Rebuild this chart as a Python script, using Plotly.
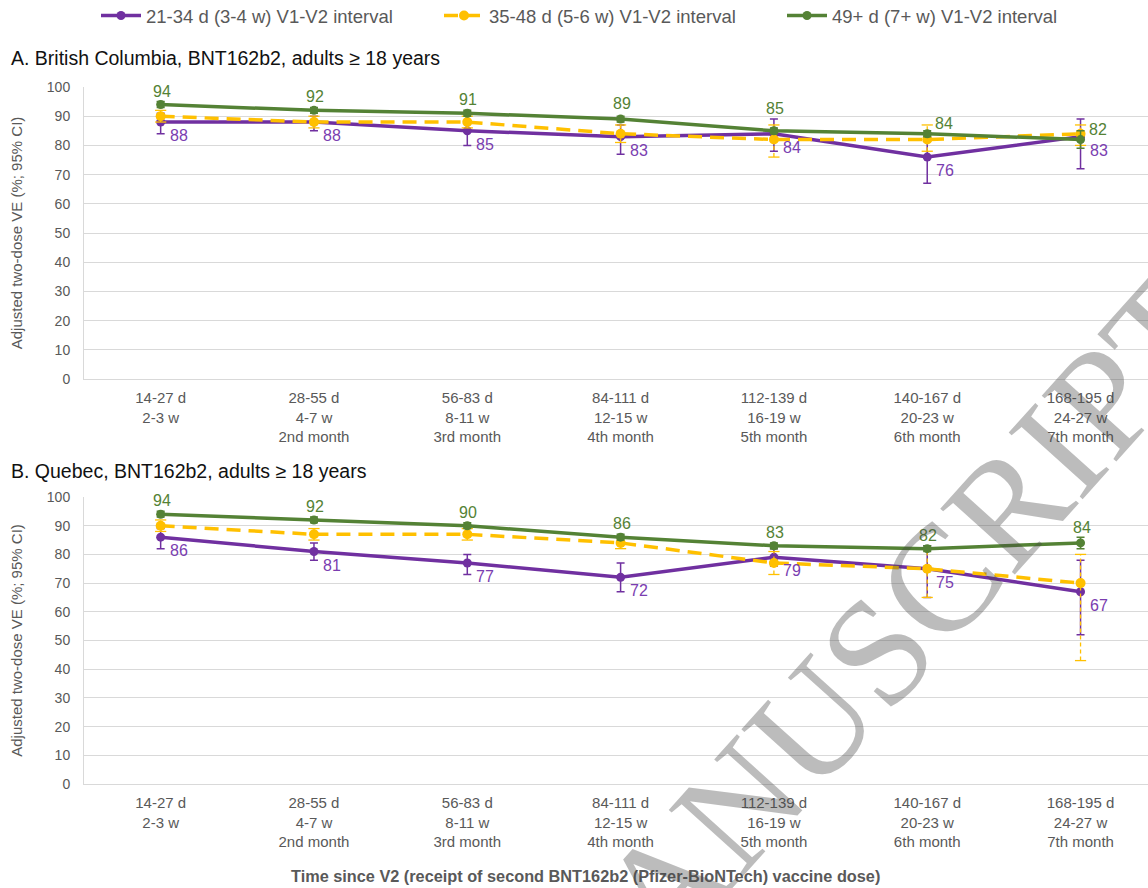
import plotly.graph_objects as go
from plotly.subplots import make_subplots

# Time since second dose (category labels)
categories = [
    "14-27 d<br>2-3 w",
    "28-55 d<br>4-7 w<br>2nd month",
    "56-83 d<br>8-11 w<br>3rd month",
    "84-111 d<br>12-15 w<br>4th month",
    "112-139 d<br>16-19 w<br>5th month",
    "140-167 d<br>20-23 w<br>6th month",
    "168-195 d<br>24-27 w<br>7th month",
]
series_names = [
    "21-34 d (3-4 w) V1-V2 interval",
    "35-48 d (5-6 w) V1-V2 interval",
    "49+ d (7+ w) V1-V2 interval",
]

# A. British Columbia: VE estimates with 95% CI bounds
bc_short_ve = [88, 88, 85, 83, 84, 76, 83]
bc_short_lo = [84, 85, 80, 77, 78, 67, 72]
bc_short_hi = [91, 90, 88, 87, 89, 83, 89]
bc_mid_ve = [90, 88, 88, 84, 82, 82, 84]
bc_mid_lo = [88, 86, 86, 81, 76, 78, 80]
bc_mid_hi = [92, 90, 90, 87, 87, 87, 87]
bc_long_ve = [94, 92, 91, 89, 85, 84, 82]
bc_long_lo = [93, 91, 90, 88, 84, 83, 79]
bc_long_hi = [95, 93, 92, 90, 86, 85, 85]

# B. Quebec: VE estimates with 95% CI bounds
qc_short_ve = [86, 81, 77, 72, 79, 75, 67]
qc_short_lo = [82, 78, 73, 67, 76, 65, 52]
qc_short_hi = [89, 84, 80, 77, 82, 83, 78]
qc_mid_ve = [90, 87, 87, 84, 77, 75, 70]
qc_mid_lo = [88, 85, 85, 82, 73, 65, 43]
qc_mid_hi = [92, 89, 89, 86, 81, 82, 80]
qc_long_ve = [94, 92, 90, 86, 83, 82, 84]
qc_long_lo = [93, 91, 89, 85, 82, 81, 82]
qc_long_hi = [95, 93, 91, 87, 84, 83, 86]

y_ticks = list(range(0, 101, 10))

PURPLE = "#7030A0"
YELLOW = "#FFC000"
GREEN = "#548235"
GREY_TXT = "#595959"
GRID = "#D9D9D9"
FONT = "Liberation Sans, Arial, sans-serif"

W, H = 1148, 888
L_MARGIN = 84

fig = make_subplots(rows=2, cols=1, vertical_spacing=0.1)


def err(ve, lo, hi, color):
    return dict(type="data", symmetric=False,
                array=[h - v for v, h in zip(ve, hi)],
                arrayminus=[v - l for v, l in zip(ve, lo)],
                color=color, thickness=1.5, width=4)


def add_panel(row, short, mid, long_, legend):
    s_ve, s_lo, s_hi = short
    m_ve, m_lo, m_hi = mid
    g_ve, g_lo, g_hi = long_
    # short interval
    fig.add_trace(go.Scatter(
        x=categories, y=s_ve, name=series_names[0], mode="lines+markers",
        line=dict(color=PURPLE, width=3.5), marker=dict(size=9, color=PURPLE),
        error_y=err(s_ve, s_lo, s_hi, PURPLE), showlegend=legend,
        legendrank=1, cliponaxis=False), row=row, col=1)
    # mid interval: dashed CI whiskers drawn as their own segments
    wx, wy = [], []
    for c, lo, hi in zip(categories, m_lo, m_hi):
        wx += [c, c, None]
        wy += [lo, hi, None]
    fig.add_trace(go.Scatter(
        x=wx, y=wy, mode="lines", line=dict(color=YELLOW, width=1.3, dash="4px,3px"),
        showlegend=False, hoverinfo="skip", cliponaxis=False), row=row, col=1)
    fig.add_trace(go.Scatter(
        x=categories + categories, y=m_lo + m_hi, mode="markers",
        marker=dict(symbol="line-ew", size=8, line=dict(color=YELLOW, width=1.3)),
        showlegend=False, hoverinfo="skip", cliponaxis=False), row=row, col=1)
    fig.add_trace(go.Scatter(
        x=categories, y=m_ve, name=series_names[1], mode="lines+markers",
        line=dict(color=YELLOW, width=3.5, dash="14px,8px"),
        marker=dict(size=10, color=YELLOW), showlegend=legend,
        legendrank=2, cliponaxis=False), row=row, col=1)
    # long interval
    fig.add_trace(go.Scatter(
        x=categories, y=g_ve, name=series_names[2], mode="lines+markers",
        line=dict(color=GREEN, width=3.5), marker=dict(size=9, color=GREEN),
        error_y=err(g_ve, g_lo, g_hi, GREEN), showlegend=legend,
        legendrank=3, cliponaxis=False), row=row, col=1)


add_panel(1, (bc_short_ve, bc_short_lo, bc_short_hi),
          (bc_mid_ve, bc_mid_lo, bc_mid_hi),
          (bc_long_ve, bc_long_lo, bc_long_hi), True)
add_panel(2, (qc_short_ve, qc_short_lo, qc_short_hi),
          (qc_mid_ve, qc_mid_lo, qc_mid_hi),
          (qc_long_ve, qc_long_lo, qc_long_hi), False)

# value labels
annotations = []
green_label_side = {
    1: ["above"] * 5 + ["right"] * 2,
    2: ["above"] * 7,
}
green_label_lift = {
    1: [3, 3, 3, 5, 12, 0, 0],
    2: [3, 3, 3, 3, 3, 3, 5],
}


def add_labels(row, s_ve, g_ve):
    xr = "x" if row == 1 else "x2"
    yr = "y" if row == 1 else "y2"
    for c, v in zip(categories, s_ve):
        annotations.append(dict(
            x=c, y=v, xref=xr, yref=yr, text=str(v), showarrow=False,
            xanchor="left", yanchor="top", xshift=7, yshift=-3,
            font=dict(family=FONT, size=16, color="#7A3DB0")))
    for c, v, side, lift in zip(categories, g_ve, green_label_side[row],
                                green_label_lift[row]):
        if side == "above":
            pos = dict(xanchor="center", yanchor="bottom", xshift=1, yshift=lift)
        else:
            pos = dict(xanchor="left", yanchor="bottom", xshift=6, yshift=lift)
        annotations.append(dict(
            x=c, y=v, xref=xr, yref=yr, text=str(v), showarrow=False,
            font=dict(family=FONT, size=16, color=GREEN), **pos))


add_labels(1, bc_short_ve, bc_long_ve)
add_labels(2, qc_short_ve, qc_long_ve)


def px_x(p):
    return (p - L_MARGIN) / (W - L_MARGIN)


def px_y(p):
    return 1 - p / H


# panel titles
for text, ypix in [("A. British Columbia, BNT162b2, adults \u2265 18 years", 58),
                   ("B. Quebec, BNT162b2, adults \u2265 18 years", 471)]:
    annotations.append(dict(
        x=px_x(9), y=px_y(ypix), xref="paper", yref="paper", text=text,
        showarrow=False, xanchor="left", yanchor="middle",
        font=dict(family=FONT, size=19.5, color="#111111")))

# shared x-axis title
annotations.append(dict(
    x=px_x(585), y=px_y(876), xref="paper", yref="paper",
    text="<b>Time since V2 (receipt of second BNT162b2 (Pfizer-BioNTech) vaccine dose)</b>",
    showarrow=False, xanchor="center", yanchor="middle",
    font=dict(family=FONT, size=16.3, color=GREY_TXT)))

# watermark
annotations.append(dict(
    x=px_x(590), y=px_y(970), xref="paper", yref="paper",
    text="ACCEPTED MANUSCRIPT", showarrow=False, textangle=-48,
    xanchor="center", yanchor="middle",
    font=dict(family="Liberation Serif, Times New Roman, serif", size=152,
              color="rgba(70,70,70,0.36)")))

axis_common_x = dict(
    type="category", range=[-0.5, 6.44], showgrid=False, showline=True,
    linecolor=GRID, linewidth=1, ticks="", automargin=False,
    tickfont=dict(family=FONT, size=15, color=GREY_TXT), ticklabelstandoff=5,
)
axis_common_y = dict(
    range=[0, 100], tickvals=y_ticks, showgrid=True, gridcolor=GRID, gridwidth=1,
    zeroline=False, showline=True, linecolor=GRID, linewidth=1, ticks="",
    automargin=False, tickfont=dict(family=FONT, size=14, color=GREY_TXT),
    ticklabelstandoff=10,
    title=dict(text="Adjusted two-dose VE (%; 95% CI)", standoff=20,
               font=dict(family=FONT, size=15, color=GREY_TXT)),
)

fig.update_xaxes(**axis_common_x)
fig.update_yaxes(**axis_common_y)
fig.update_layout(
    xaxis=dict(domain=[0, 1]), xaxis2=dict(domain=[0, 1]),
    yaxis=dict(domain=[px_y(379), px_y(87)]),
    yaxis2=dict(domain=[px_y(784), px_y(497)]),
    width=W, height=H,
    margin=dict(l=L_MARGIN, r=0, t=0, b=0, pad=0, autoexpand=False),
    paper_bgcolor="white", plot_bgcolor="white",
    font=dict(family=FONT, color=GREY_TXT),
    showlegend=True,
    legend=dict(orientation="h", x=px_x(96), y=px_y(16), xanchor="left",
                yanchor="middle", font=dict(family=FONT, size=18.5, color=GREY_TXT),
                itemwidth=40, entrywidth=288, entrywidthmode="pixels",
                bgcolor="rgba(0,0,0,0)", traceorder="normal"),
    annotations=annotations,
    hovermode=False,
)

fig.write_html("out.html")
